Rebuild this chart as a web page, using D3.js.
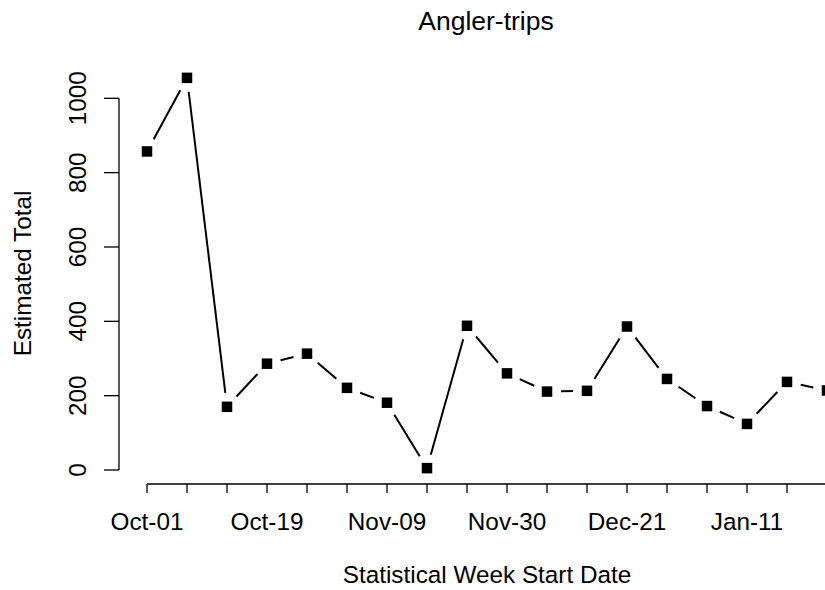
<!DOCTYPE html>
<html>
<head>
<meta charset="utf-8">
<script src="https://cdn.jsdelivr.net/npm/d3@7"></script>
<style>
  html, body { margin: 0; padding: 0; background: #fff; }
  svg { display: block; }
  text { font-family: "Liberation Sans", Arial, sans-serif; fill: #000; }
</style>
</head>
<body>
<svg id="chart" width="825" height="590"></svg>
<script>
// ---- data ----
const weeks = ["Oct-01","Oct-05","Oct-12","Oct-19","Oct-26","Nov-02","Nov-09","Nov-16","Nov-23",
               "Nov-30","Dec-07","Dec-14","Dec-21","Dec-28","Jan-04","Jan-11","Jan-18","Jan-25"];
const values = [857, 1055, 170, 286, 313, 221, 181, 5, 388, 260, 211, 213, 386, 245, 172, 124, 237, 214];
const shownLabels = ["Oct-01","Oct-19","Nov-09","Nov-30","Dec-21","Jan-11"];
const yTicks = [0, 200, 400, 600, 800, 1000];
const title = "Angler-trips";
const xTitle = "Statistical Week Start Date";
const yTitle = "Estimated Total";

// ---- layout ----
const svg = d3.select("#chart");
const FS = 24.3;

const x = d3.scaleLinear().domain([0, weeks.length - 1]).range([147, 827]);
const y = d3.scaleLinear().domain([0, 1000]).range([470, 98.3]);

// Title
svg.append("text").attr("x", 486).attr("y", 30).attr("text-anchor", "middle")
  .style("font-size", "26.5px").text(title);

// Y axis
const yAxisG = svg.append("g").attr("transform", "translate(119,0)");
yAxisG.append("line").attr("x1", 0).attr("x2", 0)
  .attr("y1", y(0)).attr("y2", y(1000)).attr("stroke", "#000").attr("stroke-width", 1.3);
yAxisG.selectAll("line.tick").data(yTicks).join("line").attr("class", "tick")
  .attr("x1", 0).attr("x2", -15).attr("y1", d => y(d)).attr("y2", d => y(d))
  .attr("stroke", "#000").attr("stroke-width", 1.3);
yAxisG.selectAll("text").data(yTicks).join("text")
  .attr("transform", d => `translate(-33,${y(d)}) rotate(-90)`)
  .attr("text-anchor", "middle").style("font-size", FS + "px").text(d => d);

// X axis
const xAxisG = svg.append("g").attr("transform", "translate(0,484)");
xAxisG.append("line").attr("x1", x(0)).attr("x2", x(weeks.length - 1))
  .attr("y1", 0).attr("y2", 0).attr("stroke", "#000").attr("stroke-width", 1.3);
xAxisG.selectAll("line.tick").data(weeks).join("line").attr("class", "tick")
  .attr("x1", (d, i) => x(i)).attr("x2", (d, i) => x(i)).attr("y1", 0).attr("y2", 9)
  .attr("stroke", "#000").attr("stroke-width", 1.3);
xAxisG.selectAll("text").data(weeks.map((w, i) => ({w, i})).filter(d => shownLabels.includes(d.w)))
  .join("text").attr("x", d => x(d.i)).attr("y", 46).attr("text-anchor", "middle")
  .style("font-size", FS + "px").text(d => d.w);

// Axis titles
svg.append("text").attr("x", 487).attr("y", 583).attr("text-anchor", "middle")
  .style("font-size", FS + "px").text(xTitle);
svg.append("text").attr("transform", `translate(31,273.5) rotate(-90)`)
  .attr("text-anchor", "middle").style("font-size", FS + "px").text(yTitle);

// Lines with gaps (type = "b")
const gap = 14;
const pts = values.map((v, i) => [x(i), y(v)]);
const segs = [];
for (let i = 0; i < pts.length - 1; i++) {
  const [x1, y1] = pts[i], [x2, y2] = pts[i + 1];
  const len = Math.hypot(x2 - x1, y2 - y1);
  if (len > 2 * gap) {
    const ux = (x2 - x1) / len, uy = (y2 - y1) / len;
    segs.push([x1 + ux * gap, y1 + uy * gap, x2 - ux * gap, y2 - uy * gap]);
  }
}
svg.append("g").selectAll("line").data(segs).join("line")
  .attr("x1", d => d[0]).attr("y1", d => d[1]).attr("x2", d => d[2]).attr("y2", d => d[3])
  .attr("stroke", "#000").attr("stroke-width", 2);

// Square markers
const S = 10.5;
svg.append("g").selectAll("rect").data(values).join("rect")
  .attr("x", (d, i) => x(i) - S / 2).attr("y", d => y(d) - S / 2)
  .attr("width", S).attr("height", S).attr("fill", "#000");
</script>
</body>
</html>
